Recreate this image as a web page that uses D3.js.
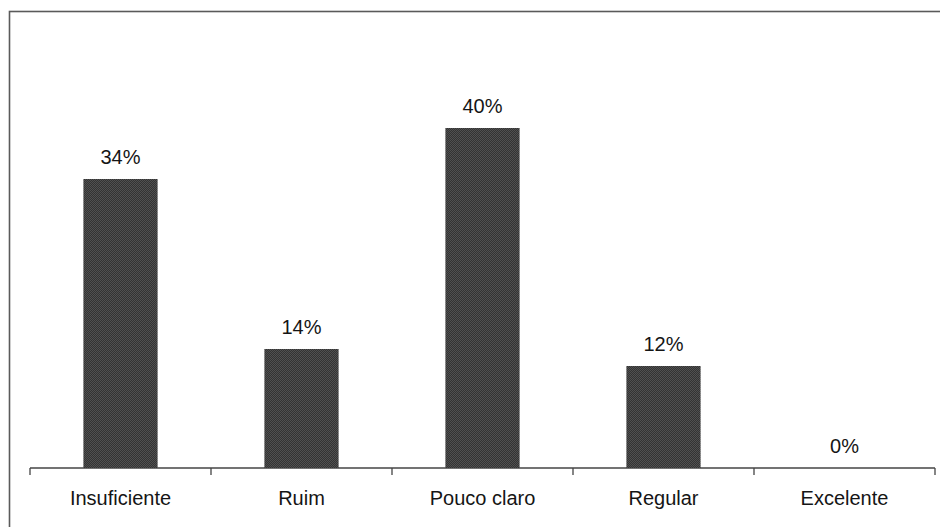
<!DOCTYPE html>
<html>
<head>
<meta charset="utf-8">
<script src="https://cdn.jsdelivr.net/npm/d3@7"></script>
<style>
  html, body { margin: 0; padding: 0; background: #ffffff; }
  svg { display: block; }
  text { font-family: "Liberation Sans", Arial, sans-serif; fill: #151515; }
</style>
</head>
<body>
<svg id="chart" width="940" height="527"></svg>
<script>
// Avaliação: distribuição das respostas por categoria
const categories = ["Insuficiente", "Ruim", "Pouco claro", "Regular", "Excelente"];
const shares = [0.34, 0.14, 0.40, 0.12, 0.00];
const valueLabels = ["34%", "14%", "40%", "12%", "0%"];

const W = 940, H = 527;
const svg = d3.select("#chart");

// Dithered dark fill for the bars
const defs = svg.append("defs");
const pat = defs.append("pattern")
  .attr("id", "dither")
  .attr("width", 2).attr("height", 2)
  .attr("patternUnits", "userSpaceOnUse");
pat.append("rect").attr("width", 2).attr("height", 2).attr("fill", "#333333");
pat.append("rect").attr("x", 0).attr("y", 0).attr("width", 1).attr("height", 1).attr("fill", "#505050");
pat.append("rect").attr("x", 1).attr("y", 1).attr("width", 1).attr("height", 1).attr("fill", "#505050");

// Outer frame (runs off the right and bottom edges)
svg.append("rect")
  .attr("x", 9.5).attr("y", 11.5)
  .attr("width", 960).attr("height", 560)
  .attr("fill", "none")
  .attr("stroke", "#5a5a5a")
  .attr("stroke-width", 1.6);

const x = d3.scaleBand()
  .domain(categories)
  .range([30, 935])
  .paddingInner(0.59)
  .paddingOuter(0.295);

const y = d3.scaleLinear()
  .domain([0, 0.5])
  .range([468, 43]);

// Category axis with ticks at the band boundaries
const axis = svg.append("g").attr("transform", `translate(0,${y(0)})`);
axis.append("line")
  .attr("x1", 30).attr("x2", 935)
  .attr("stroke", "#444").attr("stroke-width", 1.3);
const step = (935 - 30) / categories.length;
const boundaries = d3.range(categories.length + 1).map(i => 30 + i * step);
axis.selectAll("line.tick")
  .data(boundaries)
  .join("line")
  .attr("class", "tick")
  .attr("x1", d => d).attr("x2", d => d)
  .attr("y1", 0).attr("y2", 7)
  .attr("stroke", "#444").attr("stroke-width", 1.3);
axis.selectAll("text.cat")
  .data(categories)
  .join("text")
  .attr("class", "cat")
  .attr("x", d => x(d) + x.bandwidth() / 2)
  .attr("y", 37)
  .attr("text-anchor", "middle")
  .style("font-size", "20px")
  .text(d => d);

// Bars
svg.selectAll("rect.bar")
  .data(categories)
  .join("rect")
  .attr("class", "bar")
  .attr("x", d => x(d))
  .attr("width", x.bandwidth())
  .attr("y", (d, i) => y(shares[i]))
  .attr("height", (d, i) => y(0) - y(shares[i]))
  .attr("fill", "url(#dither)");

// Value labels
svg.selectAll("text.val")
  .data(categories)
  .join("text")
  .attr("class", "val")
  .attr("x", d => x(d) + x.bandwidth() / 2)
  .attr("y", (d, i) => y(shares[i]) - 15)
  .attr("text-anchor", "middle")
  .style("font-size", "20px")
  .text((d, i) => valueLabels[i]);
</script>
</body>
</html>
